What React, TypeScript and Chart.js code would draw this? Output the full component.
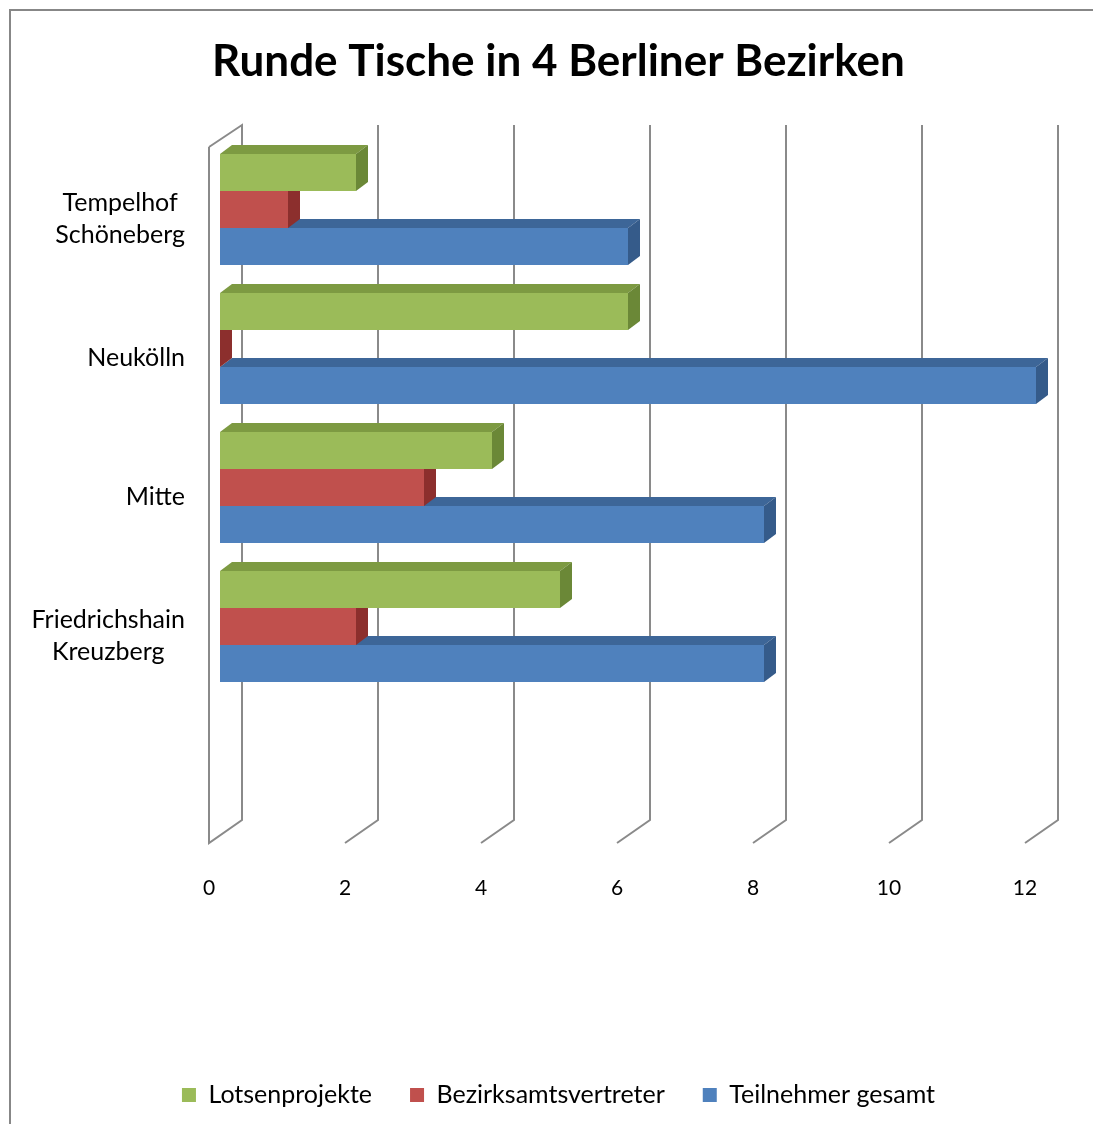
import React, { useEffect, useRef } from "react";
import { Chart, registerables } from "chart.js";

Chart.register(...registerables);

const chartTitle = "Runde Tische in 4 Berliner Bezirken";
const categories: string[][] = [
  ["Tempelhof", "Schöneberg"],
  ["Neukölln"],
  ["Mitte"],
  ["Friedrichshain", "Kreuzberg"],
  [""],
];
const seriesNames = ["Lotsenprojekte", "Bezirksamtsvertreter", "Teilnehmer gesamt"];
const lotsenprojekte = [2, 6, 4, 5, null];
const bezirksamtsvertreter = [1, 0, 3, 2, null];
const teilnehmerGesamt = [6, 12, 8, 8, null];
const xMin = 0;
const xMax = 12;
const xStep = 2;

const frontColors = ["#9BBB59", "#C0504D", "#4F81BD"];
const topColors = ["#7D9A42", "#983C3A", "#3D6698"];
const sideColors = ["#6B8837", "#8C2F2D", "#355B8A"];

const FONT = "Lato, 'Open Sans', sans-serif";
const BAR_DX = 12;
const BAR_DY = 9;
const WALL_BACK_DX = 22;
const WALL_BACK_DY = 15;
const WALL_FRONT_DX = 11;
const WALL_FRONT_DY = 8;
const GRID_COLOR = "#8A8A8A";

const frameAndGrid = {
  id: "frameAndGrid",
  beforeDraw(chart: any) {
    const ctx = chart.ctx;
    ctx.save();
    ctx.fillStyle = "#ffffff";
    ctx.fillRect(0, 0, chart.width, chart.height);
    ctx.strokeStyle = "#878787";
    ctx.lineWidth = 2;
    ctx.strokeRect(10, 10, chart.width + 20, chart.height + 20);
    ctx.restore();
  },
  beforeDatasetsDraw(chart: any) {
    const ctx = chart.ctx;
    const xs = chart.scales.x;
    const a = chart.chartArea;
    const backTop = a.top - WALL_BACK_DY;
    const backBot = a.bottom - WALL_BACK_DY;
    const frontTop = a.top + WALL_FRONT_DY - 1;
    const frontBot = a.bottom + WALL_FRONT_DY;
    ctx.save();
    ctx.strokeStyle = GRID_COLOR;
    ctx.lineWidth = 2;
    ctx.lineJoin = "miter";
    xs.ticks.forEach((t: any, i: number) => {
      const px = xs.getPixelForValue(t.value);
      const bx = px + WALL_BACK_DX;
      const fx = px - WALL_FRONT_DX;
      ctx.beginPath();
      if (i === 0) {
        ctx.moveTo(fx, frontTop);
        ctx.lineTo(bx, backTop);
        ctx.lineTo(bx, backBot);
        ctx.lineTo(fx, frontBot);
        ctx.lineTo(fx, frontTop);
      } else {
        ctx.moveTo(bx, backTop);
        ctx.lineTo(bx, backBot);
        ctx.lineTo(fx, frontBot);
      }
      ctx.stroke();
    });
    ctx.restore();
  },
  afterDatasetDraw(chart: any, args: any) {
    const ctx = chart.ctx;
    const idx = args.index;
    const ds = chart.data.datasets[idx];
    ctx.save();
    args.meta.data.forEach((el: any, i: number) => {
      if (ds.data[i] == null) return;
      const p = el.getProps(["x", "y", "base", "height"], true);
      const top = p.y - p.height / 2;
      const bot = p.y + p.height / 2;
      const x0 = Math.min(p.base, p.x);
      const x1 = Math.max(p.base, p.x);
      ctx.fillStyle = topColors[idx];
      ctx.beginPath();
      ctx.moveTo(x0, top);
      ctx.lineTo(x0 + BAR_DX, top - BAR_DY);
      ctx.lineTo(x1 + BAR_DX, top - BAR_DY);
      ctx.lineTo(x1, top);
      ctx.closePath();
      ctx.fill();
      ctx.fillStyle = sideColors[idx];
      ctx.beginPath();
      ctx.moveTo(x1, top);
      ctx.lineTo(x1 + BAR_DX, top - BAR_DY);
      ctx.lineTo(x1 + BAR_DX, bot - BAR_DY);
      ctx.lineTo(x1, bot);
      ctx.closePath();
      ctx.fill();
    });
    ctx.restore();
  },
  afterDraw(chart: any) {
    const ctx = chart.ctx;
    const ys = chart.scales.y;
    const rightEdge = 185;
    const lineH = 32;
    ctx.save();
    ctx.font = `25px ${FONT}`;
    ctx.fillStyle = "#000000";
    ctx.textAlign = "center";
    ctx.textBaseline = "middle";
    categories.forEach((lines, i) => {
      const cy = ys.getPixelForTick(i) + WALL_FRONT_DY + 1;
      const w = Math.max(...lines.map((l) => ctx.measureText(l).width));
      const cx = rightEdge - w / 2;
      lines.forEach((l, j) => {
        ctx.fillText(l, cx, cy + (j - (lines.length - 1) / 2) * lineH);
      });
    });
    ctx.restore();
  },
};

export default function App() {
  const ref = useRef<HTMLCanvasElement | null>(null);
  useEffect(() => {
    document.body.style.margin = "0";
    const canvas = ref.current;
    if (!canvas) return;
    const chart = new Chart(canvas, {
      type: "bar",
      data: {
        labels: categories,
        datasets: [
          { label: seriesNames[0], data: lotsenprojekte, backgroundColor: frontColors[0], borderWidth: 0, xAxisID: "x", yAxisID: "y" },
          { label: seriesNames[1], data: bezirksamtsvertreter, backgroundColor: frontColors[1], borderWidth: 0, xAxisID: "x", yAxisID: "y" },
          { label: seriesNames[2], data: teilnehmerGesamt, backgroundColor: frontColors[2], borderWidth: 0, xAxisID: "x", yAxisID: "y" },
        ],
      },
      options: {
        indexAxis: "y",
        responsive: false,
        animation: false,
        datasets: { bar: { categoryPercentage: 0.8, barPercentage: 1.0 } },
        layout: { padding: { top: 0, right: 0, bottom: 6.5, left: 24 } },
        scales: {
          x: {
            min: xMin,
            max: xMax,
            grid: { display: false, drawTicks: false },
            border: { display: false },
            ticks: {
              stepSize: xStep,
              padding: 41,
              labelOffset: -11,
              color: "#000000",
              font: { family: FONT, size: 21 },
            },
            afterFit: (s: any) => {
              s.height = 209.5;
            },
          },
          y: {
            position: "left",
            grid: { display: false, drawTicks: false },
            border: { display: false },
            ticks: { display: false },
            afterFit: (s: any) => {
              s.width = 196;
            },
          },
          yRight: {
            type: "linear",
            axis: "y",
            position: "right",
            grid: { display: false, drawTicks: false },
            border: { display: false },
            ticks: { display: false },
            afterFit: (s: any) => {
              s.width = 57;
            },
          },
        },
        plugins: {
          title: {
            display: true,
            text: chartTitle,
            color: "#000000",
            font: { family: FONT, size: 44, weight: "bold" },
            padding: { top: 35, bottom: 52.2 },
          },
          legend: {
            position: "bottom",
            labels: {
              boxWidth: 14,
              boxHeight: 14,
              padding: 38,
              color: "#000000",
              font: { family: FONT, size: 25 },
            },
          },
          tooltip: { enabled: false },
        },
      },
      plugins: [frameAndGrid],
    } as any);
    return () => chart.destroy();
  }, []);
  return (
    <div style={{ width: 1093, height: 1124 }}>
      <canvas ref={ref} width={1093} height={1124} />
    </div>
  );
}
